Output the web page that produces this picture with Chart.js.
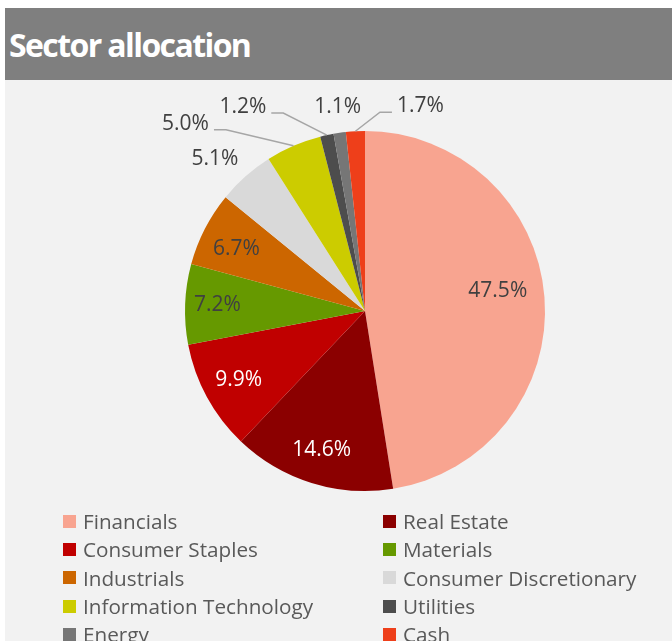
<!DOCTYPE html>
<html>
<head>
<meta charset="utf-8">
<script src="https://cdn.jsdelivr.net/npm/chart.js@4.4.1/dist/chart.umd.min.js"></script>
<style>
    body { margin: 0; width: 672px; height: 641px; overflow: hidden; background: #fff; font-family: "Open Sans", sans-serif; position: relative; }
    #head { position: absolute; left: 5px; top: 8px; width: 667px; height: 72px; background: #7f7f7f; }
    #head h1 { position: absolute; left: 4px; top: 15px; margin: 0; color: #fff; font-size: 32px; font-weight: 700; letter-spacing: -1.6px; line-height: 44px; }
    #panel { position: absolute; left: 5px; top: 80px; width: 667px; height: 561px; background: #f2f2f2; }
    #chart { position: absolute; left: 0; top: 0; }
    #legend { position: absolute; left: 58px; top: 427px; display: grid; grid-template-columns: 320px 300px; grid-auto-rows: 28.3px; }
    .item { display: flex; align-items: center; font-size: 20.7px; color: #595959; white-space: nowrap; }
    .box { width: 13px; height: 13px; margin-right: 7px; flex: none; }
</style>
</head>
<body>
<div id="head"><h1>Sector allocation</h1></div>
<div id="panel">
    <canvas id="chart" width="667" height="561"></canvas>
    <div id="legend"></div>
</div>
<script>
// sector weights (%)
const sectors = ['Financials', 'Real Estate', 'Consumer Staples', 'Materials', 'Industrials',
    'Consumer Discretionary', 'Information Technology', 'Utilities', 'Energy', 'Cash'];
const weights = [47.5, 14.6, 9.9, 7.2, 6.7, 5.1, 5.0, 1.2, 1.1, 1.7];
const colors = ['#f8a490', '#8b0000', '#c00000', '#669900', '#cc6600',
    '#d9d9d9', '#cccc00', '#4d4d4d', '#767676', '#ee3f1a'];

// where each percentage label sits: f = fraction of radius along mid angle, then a nudge
const DARK = '#404040';
const labelPlacement = [
    { f: 0.74, dx: 0, dy: -10, color: DARK },
    { f: 0.81, dx: 0, dy: 0, color: '#ffffff' },
    { f: 0.80, dx: 0, dy: 0, color: '#ffffff' },
    { f: 0.82, dx: 0, dy: 0, color: DARK },
    { f: 0.79, dx: -2, dy: 3, color: DARK },
    { f: 1.18, dx: -9, dy: 7, color: DARK },
    { f: 1.0, dx: -108, dy: -22, color: DARK, leader: true },
    { f: 1.0, dx: -84, dy: -28, color: DARK, leader: true },
    { f: 1.0, dx: -2, dy: -26, color: DARK },
    { f: 1.0, dx: 65, dy: -25, color: DARK, leader: true }
];

const pieLabels = {
    id: 'pieLabels',
    afterDatasetsDraw(chart) {
        const ctx = chart.ctx;
        const meta = chart.getDatasetMeta(0);
        ctx.save();
        ctx.font = '21px "Open Sans"';
        ctx.textAlign = 'center';
        ctx.textBaseline = 'middle';
        meta.data.forEach((arc, i) => {
            const p = labelPlacement[i];
            const mid = (arc.startAngle + arc.endAngle) / 2;
            const ax = arc.x + Math.cos(mid) * arc.outerRadius * p.f;
            const ay = arc.y + Math.sin(mid) * arc.outerRadius * p.f;
            const lx = ax + p.dx, ly = ay + p.dy;
            const text = weights[i].toFixed(1) + '%';
            if (p.leader) {
                const w = ctx.measureText(text).width;
                const side = p.dx < 0 ? 1 : -1;
                const x1 = lx + side * (w / 2 + 5);
                const x2 = x1 + side * 12;
                ctx.strokeStyle = '#a6a6a6';
                ctx.lineWidth = 1.5;
                ctx.beginPath();
                ctx.moveTo(x1, ly + 6);
                ctx.lineTo(x2, ly + 6);
                ctx.lineTo(ax, ay);
                ctx.stroke();
            }
            ctx.fillStyle = p.color;
            ctx.fillText(text, lx, ly);
        });
        ctx.restore();
    }
};

new Chart(document.getElementById('chart'), {
    type: 'pie',
    data: {
        labels: sectors,
        datasets: [{
            data: weights,
            backgroundColor: colors,
            borderWidth: 0,
            hoverOffset: 0
        }]
    },
    options: {
        responsive: false,
        animation: false,
        layout: { padding: { left: 180, right: 127, top: 51, bottom: 150 } },
        plugins: {
            legend: { display: false },
            tooltip: { enabled: false }
        }
    },
    plugins: [pieLabels]
});

// two-column legend
const legend = document.getElementById('legend');
sectors.forEach((name, i) => {
    const item = document.createElement('div');
    item.className = 'item';
    item.innerHTML = '<span class="box" style="background:' + colors[i] + '"></span>' + name;
    legend.appendChild(item);
});
</script>
</body>
</html>
